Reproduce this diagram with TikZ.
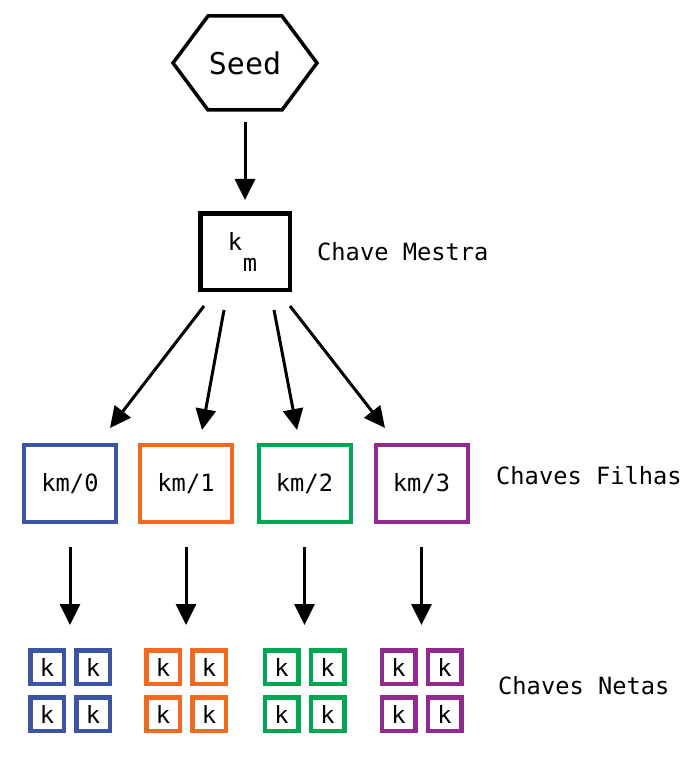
\documentclass[tikz,border=0pt]{standalone}
\usepackage{fontspec}
\setmonofont{DejaVu Sans Mono}
\usetikzlibrary{arrows.meta}
\definecolor{cblue}{HTML}{3B54A5}
\definecolor{corange}{HTML}{F26A22}
\definecolor{cgreen}{HTML}{00A651}
\definecolor{cpurple}{HTML}{92298E}
\tikzset{
  mono/.style={font=\ttfamily\fontsize{23.7}{28}\selectfont},
  txt/.style={mono, inner sep=0pt},
  arr/.style={line width=3pt, -{Triangle[length=21pt,width=20pt]}},
  masterbox/.style={draw=black, line width=4.5pt, minimum width=89.5pt, minimum height=76.5pt, inner sep=0pt},
  childbox/.style={draw=#1, line width=4pt, minimum width=92pt, minimum height=77pt, inner sep=0pt, mono},
  gbox/.style={draw=#1, line width=4.5pt, minimum width=33.5pt, minimum height=33.5pt, inner sep=0pt, mono},
}
\begin{document}
\begin{tikzpicture}[x=1pt,y=-1pt]
\useasboundingbox (0,0) rectangle (696,759);
% Seed hexagon
\node[inner sep=0pt, minimum width=144pt, minimum height=94pt, font=\ttfamily\fontsize{30}{35}\selectfont] (seed) at (245,63) {Seed};
\draw[line width=3.5pt, line join=miter] (173,63) -- (208,16) -- (282,16) -- (317,63) -- (282,110) -- (208,110) -- cycle;
% master key
\node[masterbox] (km) at (245,251.5) {};
\node[txt] (kk) at (235,241) {k};
\node[txt] (kmm) at (250,265) {m};
\node[txt, anchor=west] (lmestra) at (317,252) {Chave Mestra};
\coordinate (s0) at (245,122);
\coordinate (e0) at (245,200);
\draw[arr] (s0) -- (e0);
% children
\node[childbox=cblue] (c0) at (70,483.5) {km/0};
\node[childbox=corange] (c1) at (186,483.5) {km/1};
\node[childbox=cgreen] (c2) at (304.5,483.5) {km/2};
\node[childbox=cpurple] (c3) at (421.5,483.5) {km/3};
\node[txt, anchor=west] (lfilhas) at (496,476) {Chaves Filhas};
\coordinate (a0) at (204,306); \coordinate (b0) at (110,428);
\coordinate (a1) at (224,310); \coordinate (b1) at (202,430);
\coordinate (a2) at (274,310); \coordinate (b2) at (297,430);
\coordinate (a3) at (290,306); \coordinate (b3) at (385,428);
\foreach \i in {0,1,2,3} { \draw[arr] (a\i) -- (b\i); }
% grandchildren
\foreach \i/\x/\c in {0/70/cblue,1/186/corange,2/304.5/cgreen,3/421.5/cpurple} {
  \coordinate (d\i) at (\x,547);
  \coordinate (f\i) at (\x,625);
  \draw[arr] (d\i) -- (f\i);
  \node[gbox=\c] (g\i a) at (\x-23,667) {k};
  \node[gbox=\c] (g\i b) at (\x+23,667) {k};
  \node[gbox=\c] (g\i c) at (\x-23,714) {k};
  \node[gbox=\c] (g\i d) at (\x+23,714) {k};
}
\node[txt, anchor=west] (lnetas) at (498,686) {Chaves Netas};
\end{tikzpicture}
\end{document}
